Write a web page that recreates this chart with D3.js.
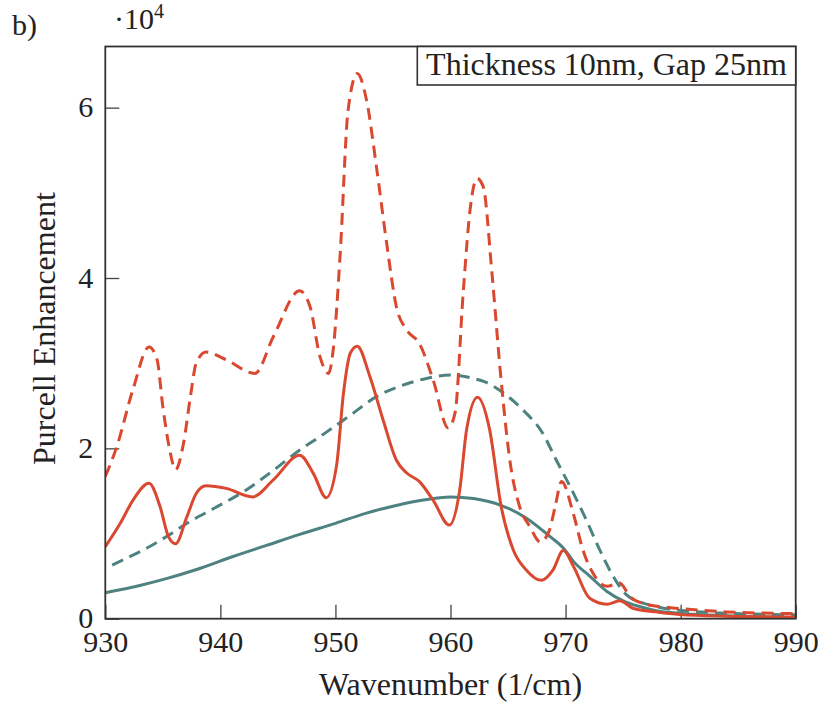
<!DOCTYPE html>
<html>
<head>
<meta charset="utf-8">
<script src="https://cdn.jsdelivr.net/npm/d3@7"></script>
<style>
  body { margin: 0; background: #fff; }
  text { font-family: 'Liberation Serif', 'Times New Roman', serif; fill: #222; }
</style>
</head>
<body>
<div id="chart"></div>
<script>
// tick values (y in units of 10^4)
const xTicks = [930, 940, 950, 960, 970, 980, 990]
const yTicks = [0, 2, 4, 6]

// [wavenumber, purcell / 1e4]
const redSolid = [
  [930, 0.845], [931.3, 1.12], [932.4, 1.39], [933.8, 1.59], [934.75, 1.32], [935.5, 0.96],
  [936.1, 0.88], [937.1, 1.2], [937.9, 1.47], [938.75, 1.56], [940.5, 1.53], [942.8, 1.43],
  [944.6, 1.63], [946.9, 1.92], [948.1, 1.7], [949.2, 1.42], [950.1, 1.8], [950.7, 2.65],
  [951.3, 3.12], [951.9, 3.2], [953, 2.84], [954.15, 2.33], [955.3, 1.86], [956.2, 1.71],
  [957.3, 1.61], [958.5, 1.39], [959.9, 1.1], [960.8, 1.51], [961.4, 2.22], [962.35, 2.6],
  [963.4, 2.22], [964.4, 1.32], [965.45, 0.81], [966.6, 0.57], [967.9, 0.45], [968.9, 0.57],
  [969.8, 0.8], [970.7, 0.61], [972.1, 0.24], [973.6, 0.17], [974.7, 0.21], [975.9, 0.12],
  [977.9, 0.08], [979.9, 0.05], [984, 0.03], [990, 0.02]
]
const redDashed = [
  [930, 1.67], [931, 2.02], [932.4, 2.69], [933.8, 3.19], [934.5, 3.04], [935, 2.49],
  [935.6, 1.98], [936.1, 1.75], [936.8, 2.06], [937.4, 2.61], [937.9, 3.0], [938.75, 3.13],
  [940.5, 3.04], [943, 2.88], [944.6, 3.31], [946.9, 3.85], [947.8, 3.66], [948.65, 3.08],
  [949.4, 2.88], [949.8, 3.15], [950.4, 4.25], [951.1, 5.97], [951.9, 6.4], [952.7, 6.09],
  [953.6, 5.27], [954.45, 4.41], [955.3, 3.66], [956.2, 3.39], [957.3, 3.23], [958.5, 2.8],
  [959.8, 2.24], [960.4, 2.42], [961.1, 3.82], [961.7, 4.8], [962.3, 5.17], [962.85, 5.07],
  [963.6, 4.06], [964.4, 2.8], [965.2, 1.82], [966, 1.32], [966.9, 1.08], [967.8, 0.9],
  [968.6, 1.04], [969.1, 1.32], [969.65, 1.61], [970.7, 1.22], [971.5, 0.81], [972.4, 0.53],
  [973.6, 0.38], [974.7, 0.42], [975.6, 0.26], [977, 0.17], [979.9, 0.12], [984, 0.08], [990, 0.06]
]
const tealSolid = [
  [930, 0.305], [933, 0.39], [935.3, 0.47], [938, 0.58], [941.1, 0.73], [944, 0.86],
  [946.9, 0.99], [950, 1.12], [952.7, 1.24], [955, 1.32], [957.5, 1.39], [960, 1.43],
  [962, 1.41], [964.6, 1.32], [966.6, 1.18], [968.6, 0.97], [969.8, 0.83], [970.7, 0.67],
  [972.1, 0.5], [973.6, 0.32], [975, 0.21], [976.5, 0.14], [978, 0.09], [979.9, 0.065],
  [982, 0.045], [985, 0.03], [988, 0.02], [990, 0.015]
]
const tealDashed = [
  [930.6, 0.63], [932, 0.72], [933.9, 0.85], [935.5, 0.98], [937.1, 1.12], [939.5, 1.3],
  [942, 1.49], [944.5, 1.73], [946.9, 1.98], [949, 2.17], [951.3, 2.39], [953.6, 2.61],
  [955.8, 2.74], [957.9, 2.82], [960, 2.86], [962, 2.82], [963, 2.78], [964.6, 2.65],
  [966.3, 2.45], [968, 2.18], [969.2, 1.86], [970.4, 1.55], [971.8, 1.16], [973, 0.8],
  [974, 0.53], [975.3, 0.28], [977.3, 0.16], [979.9, 0.1], [983, 0.07], [986, 0.055], [990, 0.045]
]

const RED = '#d9482f'
const TEAL = '#4e8280'

const W = 830, H = 711
const plot = { left: 105.3, right: 795.7, top: 46.5, bottom: 618.7 }

const svg = d3.select('#chart').append('svg').attr('width', W).attr('height', H)

const x = d3.scaleLinear().domain([930, 990]).range([plot.left, plot.right])
const y = d3.scaleLinear().domain([0, 6.718]).range([plot.bottom, plot.top])

svg.append('defs').append('clipPath').attr('id', 'clip')
  .append('rect')
  .attr('x', plot.left).attr('y', plot.top)
  .attr('width', plot.right - plot.left).attr('height', plot.bottom - plot.top)

// x axis, ticks pointing inward
const xAxis = svg.append('g')
  .attr('transform', `translate(0, ${plot.bottom})`)
  .call(d3.axisBottom(x).tickValues(xTicks).tickSize(-14).tickFormat(d3.format('d')))
xAxis.select('.domain').remove()
xAxis.selectAll('line').attr('stroke', '#444').attr('stroke-width', 1.3)
xAxis.selectAll('text').attr('y', 33).attr('dy', 0)
  .attr('font-size', '30px').attr('fill', '#222')

// y axis
const yAxis = svg.append('g')
  .attr('transform', `translate(${plot.left}, 0)`)
  .call(d3.axisLeft(y).tickValues(yTicks).tickSize(-14).tickFormat(d3.format('d')))
yAxis.select('.domain').remove()
yAxis.selectAll('line').attr('stroke', '#444').attr('stroke-width', 1.3)
yAxis.selectAll('text').attr('x', -12).attr('dy', 9)
  .attr('font-size', '30px').attr('fill', '#222')

// curves
const line = d3.line()
  .x((d) => x(d[0]))
  .y((d) => y(d[1]))
  .curve(d3.curveMonotoneX)

const curves = svg.append('g').attr('clip-path', 'url(#clip)')
const series = [
  { data: tealSolid, color: TEAL, dash: null },
  { data: tealDashed, color: TEAL, dash: '12,7' },
  { data: redDashed, color: RED, dash: '12,7' },
  { data: redSolid, color: RED, dash: null },
]
series.forEach((s) => {
  curves.append('path')
    .attr('d', line(s.data))
    .attr('fill', 'none')
    .attr('stroke', s.color)
    .attr('stroke-width', 3)
    .attr('stroke-dasharray', s.dash)
})

// frame
svg.append('rect')
  .attr('x', plot.left).attr('y', plot.top)
  .attr('width', plot.right - plot.left).attr('height', plot.bottom - plot.top)
  .attr('fill', 'none').attr('stroke', '#333').attr('stroke-width', 1.8)

// legend / annotation box
svg.append('rect')
  .attr('x', 417.3).attr('y', plot.top)
  .attr('width', plot.right - 417.3).attr('height', 38.5)
  .attr('fill', '#fff').attr('stroke', '#333').attr('stroke-width', 1.6)
svg.append('text')
  .attr('x', 606.5).attr('y', 75)
  .attr('text-anchor', 'middle')
  .attr('font-size', '32px')
  .text('Thickness 10nm, Gap 25nm')

// axis labels
svg.append('text')
  .attr('x', (plot.left + plot.right) / 2).attr('y', 695)
  .attr('text-anchor', 'middle')
  .attr('font-size', '32px')
  .text('Wavenumber (1/cm)')

svg.append('text')
  .attr('transform', `translate(55, ${(plot.top + plot.bottom) / 2 - 4}) rotate(-90)`)
  .attr('text-anchor', 'middle')
  .attr('font-size', '32px')
  .text('Purcell Enhancement')

// panel letter and scale factor
svg.append('text').attr('x', 12).attr('y', 35).attr('font-size', '30px').text('b)')
const factor = svg.append('text').attr('x', 114).attr('y', 29).attr('font-size', '30px')
factor.append('tspan').text('·10')
factor.append('tspan').attr('dy', -11).attr('font-size', '20px').text('4')
</script>
</body>
</html>
